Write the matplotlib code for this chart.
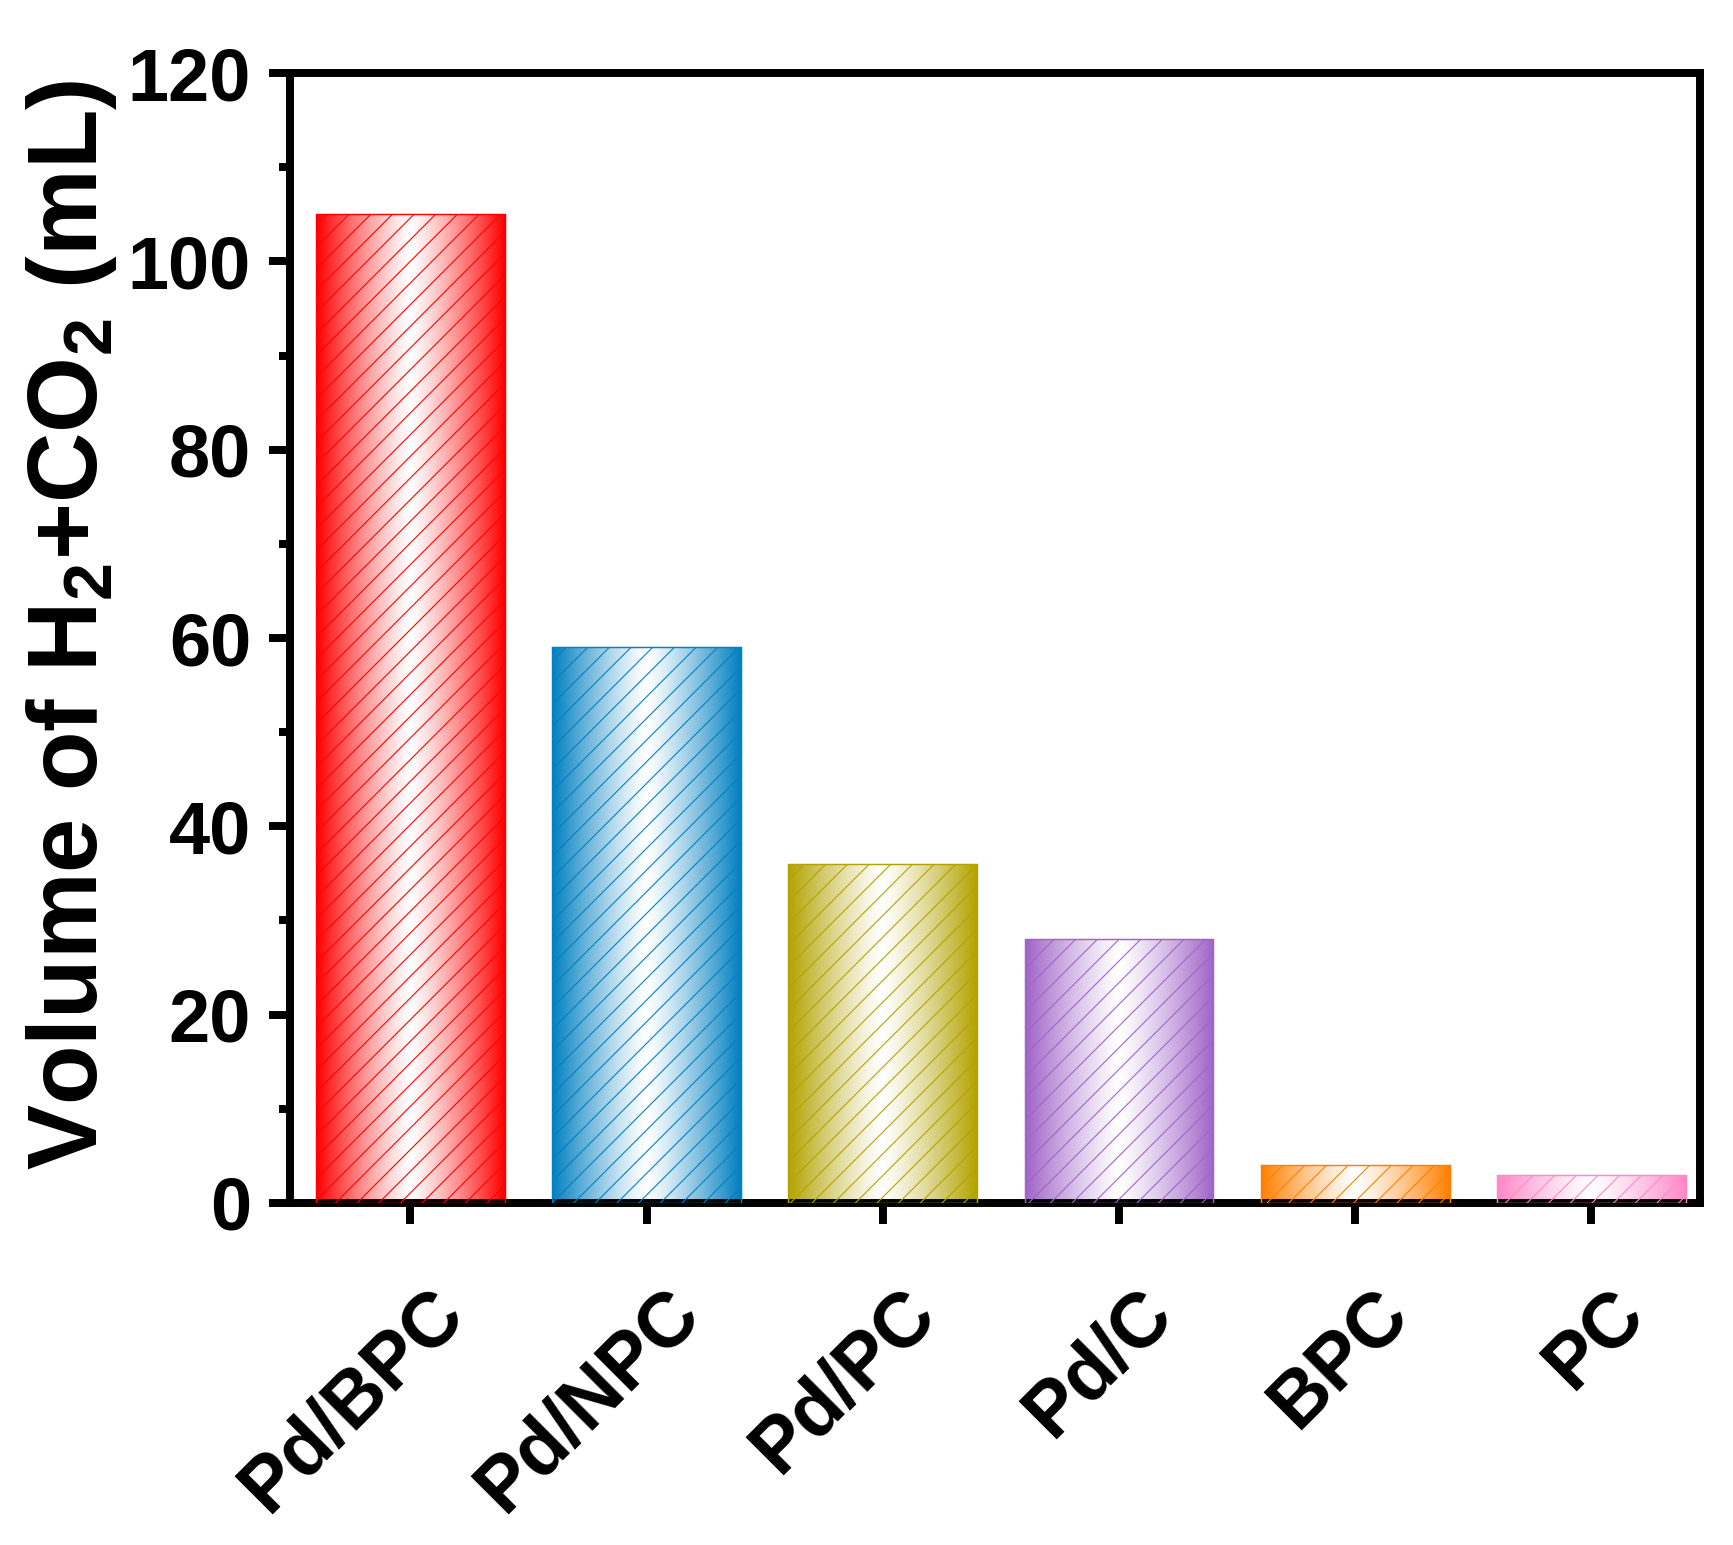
import numpy as np
import matplotlib
matplotlib.use("Agg")
import matplotlib.pyplot as plt
import matplotlib.transforms as mtrans
from matplotlib.ticker import MultipleLocator
from matplotlib.colors import to_rgb

catalysts = ["Pd/BPC", "Pd/NPC", "Pd/PC", "Pd/C", "BPC", "PC"]
volume = [105, 59, 36, 28, 4, 3]
bar_colors = ["#FF0000", "#0080C0", "#B3A300", "#A064C8", "#FF8000", "#FF88C8"]

plt.rcParams["font.family"] = "Liberation Sans"
plt.rcParams["font.weight"] = "bold"
plt.rcParams["axes.labelweight"] = "bold"
plt.rcParams["mathtext.fontset"] = "custom"
plt.rcParams["mathtext.rm"] = "Liberation Sans:bold"
plt.rcParams["mathtext.default"] = "rm"
plt.rcParams["hatch.linewidth"] = 0.6

DPI = 130
fig = plt.figure(figsize=(1733 / DPI, 1545 / DPI), dpi=DPI)
ax = fig.add_axes([0.1673, 0.2214, 0.8137, 0.7313])

x = np.arange(len(catalysts))
bars = ax.bar(x, volume, width=0.8, facecolor="none", edgecolor=bar_colors,
              hatch="//", linewidth=0.8, zorder=3)

# horizontal gradient: colour at the edges, white in the middle
t = np.abs(np.linspace(-1, 1, 256)) ** 1.2
for b, c in zip(bars, bar_colors):
    rgb = np.array(to_rgb(c))
    row = (1 - t)[:, None] * np.ones(3) + t[:, None] * rgb
    img = ax.imshow(row[None, :, :], aspect="auto", zorder=2,
                    extent=[b.get_x(), b.get_x() + b.get_width(), 0, b.get_height()])
    img.set_clip_path(b)

ax.set_xlim(-0.51, 5.46)
ax.set_ylim(0, 120)
ax.yaxis.set_major_locator(MultipleLocator(20))
ax.yaxis.set_minor_locator(MultipleLocator(10))

for s in ax.spines.values():
    s.set_linewidth(4.4)

ax.tick_params(axis="both", which="major", direction="out", width=4.4, length=11.5,
               labelsize=41)
ax.tick_params(axis="y", which="minor", direction="out", width=4.4, length=6)
ax.tick_params(axis="y", which="major", pad=10)
ax.tick_params(axis="x", which="major", pad=43)
ax.tick_params(top=False, right=False)

ax.set_xticks(x)
ax.set_xticklabels(catalysts, rotation=45, rotation_mode="anchor",
                   ha="right", va="center", fontsize=42.5)
shift = mtrans.ScaledTranslation(42 / DPI, 0, fig.dpi_scale_trans)
for lab in ax.get_xticklabels():
    lab.set_transform(lab.get_transform() + shift)

ax.set_ylabel("Volume of H$_2$+CO$_2$ (mL)", fontsize=54, fontweight="bold")
ax.yaxis.set_label_coords(-0.121, 0.512)

fig.savefig("out.png", dpi=DPI)
